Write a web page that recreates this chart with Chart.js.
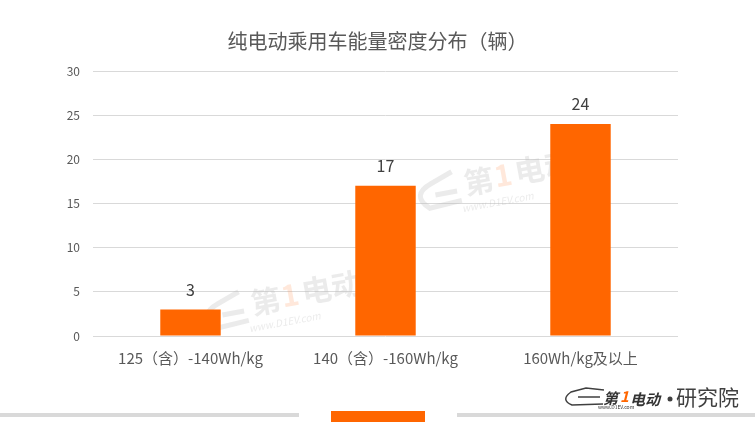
<!DOCTYPE html>
<html>
<head>
<meta charset="utf-8">
<script src="https://cdn.jsdelivr.net/npm/chart.js@4/dist/chart.umd.min.js"></script>
<style>
  html, body { margin: 0; padding: 0; background: #fff; }
  #wrap { width: 755px; height: 445px; position: relative; }
</style>
</head>
<body>
<div id="wrap"><canvas id="chart"></canvas></div>
<script>
const chartTitle = '纯电动乘用车能量密度分布（辆）';
const categories = ['125（含）-140Wh/kg', '140（含）-160Wh/kg', '160Wh/kg及以上'];
const vehicleCounts = [3, 17, 24];
const yMin = 0;
const yMax = 30;
const yStep = 5;

const FONT = '"Noto Sans CJK SC", "Noto Sans", sans-serif';
const ORANGE = '#FF6600';

// numbers above each bar
const valueLabels = {
    id: 'valueLabels',
    afterDatasetsDraw(chart) {
        const ctx = chart.ctx;
        const meta = chart.getDatasetMeta(0);
        ctx.save();
        ctx.font = '16px ' + FONT;
        ctx.fillStyle = '#404040';
        ctx.textAlign = 'center';
        ctx.textBaseline = 'alphabetic';
        meta.data.forEach((bar, i) => {
            ctx.fillText(chart.data.datasets[0].data[i], bar.x, bar.y - 14);
        });
        ctx.restore();
    }
};

// faint site watermarks behind the bars
const watermarks = {
    id: 'watermarks',
    beforeDatasetsDraw(chart) {
        const ctx = chart.ctx;
        const spots = [[272, 308], [485, 188]];
        ctx.save();
        spots.forEach(([x, y]) => {
            ctx.save();
            ctx.translate(x, y);
            ctx.rotate(-0.18);
            ctx.fillStyle = 'rgba(190,190,190,0.3)';
            ctx.font = 'bold 30px ' + FONT;
            ctx.textAlign = 'center';
            ctx.textBaseline = 'middle';
            ctx.fillText('第', -5, -8);
            ctx.fillStyle = 'rgba(255,150,90,0.22)';
            ctx.fillText('1', 20, -10);
            ctx.fillStyle = 'rgba(190,190,190,0.3)';
            ctx.fillText('电动', 62, -10);
            ctx.font = 'italic 10px ' + FONT;
            ctx.fillText('www.D1EV.com', 10, 16);
            ctx.strokeStyle = 'rgba(190,190,190,0.3)';
            ctx.lineWidth = 5;
            ctx.beginPath();
            ctx.moveTo(-25, 8);
            ctx.lineTo(-58, 10);
            ctx.quadraticCurveTo(-75, -6, -52, -14);
            ctx.lineTo(-30, -22);
            ctx.moveTo(-50, -2);
            ctx.lineTo(-28, -2);
            ctx.stroke();
            ctx.restore();
        });
        ctx.restore();
    }
};

// footer bars and logo
const footer = {
    id: 'footer',
    afterDraw(chart) {
        const ctx = chart.ctx;
        ctx.save();
        ctx.fillStyle = '#D9D9D9';
        ctx.fillRect(0, 413, 299, 4);
        ctx.fillRect(457, 413, 298, 4);
        ctx.fillStyle = ORANGE;
        ctx.fillRect(331, 411, 94, 11);

        ctx.textBaseline = 'middle';
        ctx.textAlign = 'left';
        ctx.fillStyle = '#333';
        ctx.font = 'bold italic 15px ' + FONT;
        ctx.fillText('第', 603, 398);
        ctx.fillStyle = ORANGE;
        ctx.fillText('1', 620, 396);
        ctx.fillStyle = '#333';
        ctx.fillText('电动', 630, 399);
        ctx.font = '5px ' + FONT;
        ctx.fillText('www.D1EV.com', 598, 407);
        ctx.fillStyle = '#404040';
        ctx.beginPath();
        ctx.arc(670, 399, 2.5, 0, Math.PI * 2);
        ctx.fill();
        ctx.font = '21px ' + FONT;
        ctx.fillText('研究院', 676, 397);
        ctx.strokeStyle = '#404040';
        ctx.lineWidth = 1.5;
        ctx.beginPath();
        ctx.moveTo(603, 404);
        ctx.lineTo(572, 405);
        ctx.quadraticCurveTo(560, 400, 571, 392);
        ctx.lineTo(586, 388);
        ctx.lineTo(604, 390);
        ctx.moveTo(578, 397);
        ctx.lineTo(600, 397);
        ctx.stroke();
        ctx.restore();
    }
};

new Chart(document.getElementById('chart').getContext('2d'), {
    type: 'bar',
    data: {
        labels: categories,
        datasets: [{
            data: vehicleCounts,
            backgroundColor: ORANGE,
            borderWidth: 0,
            categoryPercentage: 1,
            barPercentage: 0.31
        }]
    },
    options: {
        responsive: true,
        maintainAspectRatio: false,
        animation: false,
        layout: { padding: 0 },
        plugins: {
            legend: { display: false },
            tooltip: { enabled: false },
            title: {
                display: true,
                text: chartTitle,
                color: '#595959',
                font: { family: FONT, size: 20, weight: 'normal' },
                padding: { top: 29, bottom: 18 }
            }
        },
        scales: {
            x: {
                grid: { display: false },
                border: { display: false },
                ticks: { color: '#595959', font: { family: FONT, size: 15 }, padding: 5, maxRotation: 0 },
                afterFit(scale) { scale.height = 109; }
            },
            y: {
                min: yMin,
                max: yMax,
                ticks: { stepSize: yStep, color: '#595959', font: { family: FONT, size: 12 }, padding: 13 },
                grid: { color: '#D9D9D9', lineWidth: 1, drawTicks: false },
                border: { display: false },
                afterFit(scale) { scale.width = 93; }
            },
            // empty right-hand axis that keeps the plot clear of the right margin
            yRight: {
                position: 'right',
                min: yMin,
                max: yMax,
                grid: { display: false },
                border: { display: false },
                ticks: { display: false },
                afterFit(scale) { scale.width = 77; }
            }
        }
    },
    plugins: [watermarks, valueLabels, footer]
});
</script>
</body>
</html>
